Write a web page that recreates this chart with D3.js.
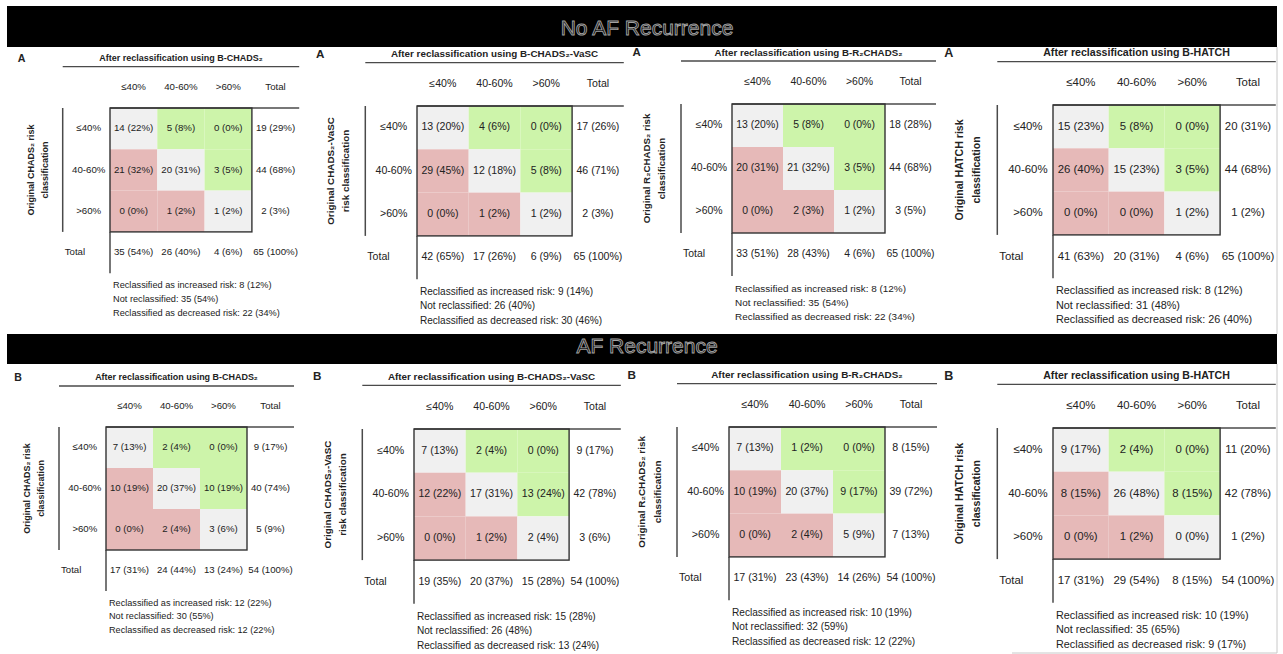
<!DOCTYPE html>
<html>
<head>
<meta charset="utf-8">
<script src="https://cdn.jsdelivr.net/npm/d3@7"></script>
<style>
  body { margin: 0; background: #fff; }
  svg { display: block; }
</style>
</head>
<body>
<svg id="fig" width="1283" height="654"></svg>
<script>
// ---- Data -------------------------------------------------------------
const riskClasses = ["≤40%", "40-60%", ">60%"];
const totalLabel = "Total";
const groupTitles = ["No AF Recurrence", "AF Recurrence"];
const groupLetters = ["A", "B"];
const scoreNames = ["B-CHADS₂", "B-CHADS₂-VaSC", "B-R₂CHADS₂", "B-HATCH"];
const originalLabels = [
  ["Original CHADS₂ risk", "classification"],
  ["Original CHADS₂-VaSC", "risk classification"],
  ["Original R₂CHADS₂ risk", "classification"],
  ["Original HATCH risk", "classification"]
];
const summaryLabels = [
  "Reclassified as increased risk: ",
  "Not reclassified: ",
  "Reclassified as decreased risk: "
];

// No AF recurrence (n = 65): rows = original class, columns = reclassified
const noAfTotal = 65;
const noAfCounts = [
  [[14, 5, 0], [21, 20, 3], [0, 1, 1]],
  [[13, 4, 0], [29, 12, 5], [0, 1, 1]],
  [[13, 5, 0], [20, 21, 3], [0, 2, 1]],
  [[15, 5, 0], [26, 15, 3], [0, 0, 1]]
];
const noAfPercents = [
  [[22, 8, 0], [32, 31, 5], [0, 2, 2]],
  [[20, 6, 0], [45, 18, 8], [0, 2, 2]],
  [[20, 8, 0], [31, 32, 5], [0, 3, 2]],
  [[23, 8, 0], [40, 23, 5], [0, 0, 2]]
];
const noAfRowTotals = [[19, 44, 2], [17, 46, 2], [18, 44, 3], [20, 44, 1]];
const noAfRowPercents = [[29, 68, 3], [26, 71, 3], [28, 68, 5], [31, 68, 2]];
const noAfColTotals = [[35, 26, 4], [42, 17, 6], [33, 28, 4], [41, 20, 4]];
const noAfColPercents = [[54, 40, 6], [65, 26, 9], [51, 43, 6], [63, 31, 6]];
const noAfSummary = [
  [[8, 12], [35, 54], [22, 34]],
  [[9, 14], [26, 40], [30, 46]],
  [[8, 12], [35, 54], [22, 34]],
  [[8, 12], [31, 48], [26, 40]]
];

// AF recurrence (n = 54)
const afTotal = 54;
const afCounts = [
  [[7, 2, 0], [10, 20, 10], [0, 2, 3]],
  [[7, 2, 0], [12, 17, 13], [0, 1, 2]],
  [[7, 1, 0], [10, 20, 9], [0, 2, 5]],
  [[9, 2, 0], [8, 26, 8], [0, 1, 0]]
];
const afPercents = [
  [[13, 4, 0], [19, 37, 19], [0, 4, 6]],
  [[13, 4, 0], [22, 31, 24], [0, 2, 4]],
  [[13, 2, 0], [19, 37, 17], [0, 4, 9]],
  [[17, 4, 0], [15, 48, 15], [0, 2, 0]]
];
const afRowTotals = [[9, 40, 5], [9, 42, 3], [8, 39, 7], [11, 42, 1]];
const afRowPercents = [[17, 74, 9], [17, 78, 6], [15, 72, 13], [20, 78, 2]];
const afColTotals = [[17, 24, 13], [19, 20, 15], [17, 23, 14], [17, 29, 8]];
const afColPercents = [[31, 44, 24], [35, 37, 28], [31, 43, 26], [31, 54, 15]];
const afSummary = [
  [[12, 22], [30, 55], [12, 22]],
  [[15, 28], [26, 48], [13, 24]],
  [[10, 19], [32, 59], [12, 22]],
  [[10, 19], [35, 65], [9, 17]]
];

// ---- Layout -----------------------------------------------------------
// grid left / top edge and cell size of each table
const tableFrames = [
  [{ gl: 110, gt: 108, cw: 47.3, ch: 41.3 },
   { gl: 417, gt: 106, cw: 51.7, ch: 43.3 },
   { gl: 732, gt: 104, cw: 51.0, ch: 43.0 },
   { gl: 1053, gt: 105, cw: 55.7, ch: 43.3 }],
  [{ gl: 106, gt: 427, cw: 47.0, ch: 41.0 },
   { gl: 414, gt: 429, cw: 51.7, ch: 43.7 },
   { gl: 729, gt: 427, cw: 52.0, ch: 43.3 },
   { gl: 1053, gt: 428, cw: 55.7, ch: 43.7 }]
];
const banners = [{ y: 6, h: 41, ty: 29 }, { y: 334, h: 30, ty: 347 }];

const colors = {
  same: "#f0f0f0",
  up: "#cdf4aa",
  down: "#e6b9b8",
  text: "#222",
  rule: "#4a4a4a",
  box: "#333"
};
const FONT = "'Liberation Sans', Arial, sans-serif";

const svg = d3.select("#fig");

// banners with outlined headings
banners.forEach((b, i) => {
  const g = svg.append("g");
  g.append("rect").attr("x", 7).attr("y", b.y).attr("width", 1270).attr("height", b.h).attr("fill", "#000");
  g.append("text")
    .attr("x", 647).attr("y", b.ty)
    .attr("text-anchor", "middle").attr("dominant-baseline", "middle")
    .attr("font-family", FONT).attr("font-size", 21)
    .attr("fill", "#080808").attr("stroke", "#a2a2a2").attr("stroke-width", 0.9)
    .text(groupTitles[i]);
});

// faint frame along the right edge
svg.append("line").attr("x1", 1277).attr("x2", 1277).attr("y1", 47).attr("y2", 334).attr("stroke", "#c8c8c8");
svg.append("line").attr("x1", 1277).attr("x2", 1277).attr("y1", 364).attr("y2", 653).attr("stroke", "#c8c8c8");
svg.append("line").attr("x1", 1012).attr("x2", 1277).attr("y1", 653).attr("y2", 653).attr("stroke", "#c8c8c8");

const groups = [
  { counts: noAfCounts, pct: noAfPercents, rowT: noAfRowTotals, rowP: noAfRowPercents,
    colT: noAfColTotals, colP: noAfColPercents, total: noAfTotal, summary: noAfSummary },
  { counts: afCounts, pct: afPercents, rowT: afRowTotals, rowP: afRowPercents,
    colT: afColTotals, colP: afColPercents, total: afTotal, summary: afSummary }
];

const label = (n, p) => `${n} (${p}%)`;

groups.forEach((grp, gi) => {
  scoreNames.forEach((score, si) => {
    const f = tableFrames[gi][si];
    const fs = 0.205 * f.cw;
    const cols = [...riskClasses, totalLabel];
    const x = d3.scaleBand().domain(cols).range([f.gl, f.gl + 4 * f.cw]);
    const y = d3.scaleBand().domain(cols).range([f.gt, f.gt + 4 * f.ch]);
    const gridR = x(">60%") + x.bandwidth();
    const gridB = y(">60%") + y.bandwidth();
    const leftX = f.gl - f.cw;
    const rightX = f.gl + 4 * f.cw;
    const rowLabelX = f.gl - 0.45 * f.cw;
    const g = svg.append("g").attr("font-family", FONT).attr("fill", colors.text);

    const txt = (px, py, s, opts = {}) => g.append("text")
      .attr("x", px).attr("y", py)
      .attr("text-anchor", opts.anchor || "middle")
      .attr("dominant-baseline", "middle")
      .attr("font-size", opts.size || fs)
      .attr("font-weight", opts.bold ? "bold" : "normal")
      .attr("fill", colors.text)
      .text(s);

    // panel letter and title
    const titleY = f.gt - f.ch - 8;
    txt(leftX - 0.87 * f.cw, titleY, groupLetters[gi], { bold: true, size: fs * 1.1 });
    txt((leftX + rightX) / 2, titleY, "After reclassification using " + score, { bold: true, size: fs * 0.93 });
    g.append("line").attr("x1", leftX).attr("x2", rightX)
      .attr("y1", f.gt - f.ch).attr("y2", f.gt - f.ch)
      .attr("stroke", colors.rule).attr("stroke-width", 1.3);

    // column headers
    cols.forEach(c => txt(x(c) + x.bandwidth() / 2, f.gt - f.ch / 2, c));

    // cells
    riskClasses.forEach((rc, r) => {
      riskClasses.forEach((cc, c) => {
        g.append("rect")
          .attr("x", x(cc)).attr("y", y(rc))
          .attr("width", x.bandwidth()).attr("height", y.bandwidth())
          .attr("fill", r === c ? colors.same : (c > r ? colors.up : colors.down));
      });
    });
    riskClasses.forEach((rc, r) => {
      riskClasses.forEach((cc, c) => {
        txt(x(cc) + x.bandwidth() / 2, y(rc) + y.bandwidth() / 2, label(grp.counts[si][r][c], grp.pct[si][r][c]));
      });
      // row label and row total
      txt(rowLabelX, y(rc) + y.bandwidth() / 2, rc);
      txt(x(totalLabel) + x.bandwidth() / 2, y(rc) + y.bandwidth() / 2, label(grp.rowT[si][r], grp.rowP[si][r]));
    });

    // total row
    const ty = y(totalLabel) + y.bandwidth() / 2;
    txt(leftX + 2, ty, totalLabel, { anchor: "start" });
    riskClasses.forEach((cc, c) => {
      txt(x(cc) + x.bandwidth() / 2, ty, label(grp.colT[si][c], grp.colP[si][c]));
    });
    txt(x(totalLabel) + x.bandwidth() / 2, ty, label(grp.total, 100));

    // rules and box
    g.append("line").attr("x1", f.gl).attr("x2", rightX).attr("y1", f.gt).attr("y2", f.gt)
      .attr("stroke", colors.rule).attr("stroke-width", 1.5);
    g.append("line").attr("x1", leftX).attr("x2", leftX).attr("y1", f.gt).attr("y2", gridB)
      .attr("stroke", colors.rule).attr("stroke-width", 1.5);
    g.append("line").attr("x1", f.gl).attr("x2", f.gl).attr("y1", gridB).attr("y2", gridB + f.ch)
      .attr("stroke", colors.rule).attr("stroke-width", 1.5);
    g.append("rect").attr("x", f.gl).attr("y", f.gt)
      .attr("width", gridR - f.gl).attr("height", gridB - f.gt)
      .attr("fill", "none").attr("stroke", colors.box).attr("stroke-width", 1.4);

    // rotated axis label for the original classification
    const midY = (f.gt + gridB) / 2;
    originalLabels[si].forEach((line, li) => {
      const lx = leftX - (li === 0 ? 0.66 : 0.36) * f.cw;
      g.append("text")
        .attr("transform", `translate(${lx},${midY}) rotate(-90)`)
        .attr("text-anchor", "middle").attr("dominant-baseline", "middle")
        .attr("font-size", fs * 0.93).attr("font-weight", "bold")
        .attr("fill", colors.text)
        .text(line);
    });

    // reclassification summary
    grp.summary[si].forEach((s, k) => {
      txt(f.gl + 3, gridB + 1.3 * f.ch + k * 0.335 * f.ch, summaryLabels[k] + label(s[0], s[1]),
        { anchor: "start", size: fs * 0.95 });
    });
  });
});
</script>
</body>
</html>
